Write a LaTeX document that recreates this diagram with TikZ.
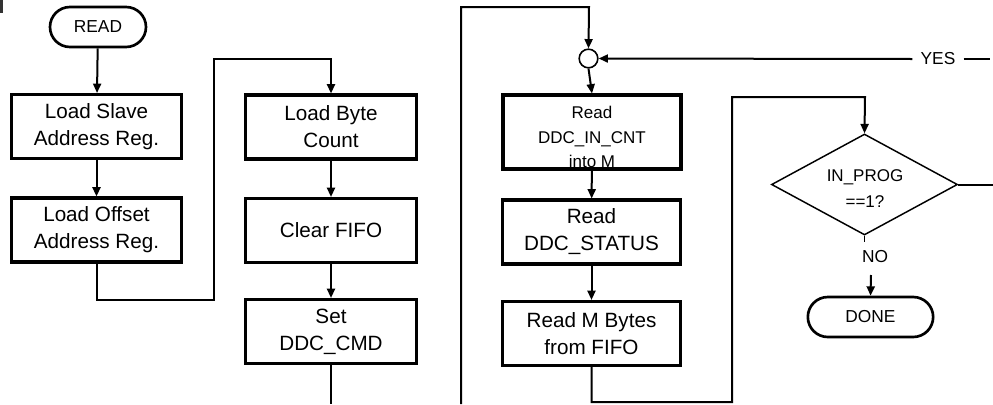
\documentclass[tikz,border=0pt]{standalone}
\usepackage{fontspec}
\setmainfont{Liberation Sans}
\usetikzlibrary{shapes.geometric,arrows.meta}
\begin{document}
\begin{tikzpicture}[x=0.75pt,y=-0.75pt,
  box/.style={draw,line width=2.3pt,minimum width=128pt,minimum height=48pt,inner sep=0pt,align=center,font=\fontsize{15.5pt}{20.25pt}\selectfont},
  term/.style={draw,line width=2pt,rounded corners=15pt,minimum width=72pt,minimum height=30pt,inner sep=0pt,font=\fontsize{13pt}{16pt}\selectfont},
  dec/.style={draw,line width=1.1pt,diamond,aspect=1.84,minimum width=139.5pt,minimum height=75.75pt,inner sep=0pt},
  txt/.style={inner sep=0pt,align=center,font=\fontsize{12.75pt}{18.6pt}\selectfont},
  lbl/.style={inner sep=1pt,font=\fontsize{13pt}{16pt}\selectfont},
  conn/.style={line width=1.5pt},
  arr/.style={line width=1.5pt,-{Triangle[length=7pt,width=6pt]}}]
\useasboundingbox (0,0) rectangle (993,404);
\fill[black!80] (0,0) rectangle (3,13);
% column 1
\node[term] (read) at (98,27) {READ};
\node[box] (slave) at (96.5,126.5) {Load Slave\\Address Reg.};
\node[box] (offset) at (96.5,230) {Load Offset\\Address Reg.};
% column 2
\node[box] (bytecnt) at (331,127) {Load Byte\\Count};
\node[box] (clear) at (331,230.5) {Clear FIFO};
\node[box] (setcmd) at (331,331.5) {Set\\DDC\_CMD};
% column 3
\node[draw,circle,line width=1.2pt,minimum size=14pt,inner sep=0pt] (join) at (588.5,58.5) {};
\node[box,minimum width=133.5pt,minimum height=55.5pt] (incnt) at (592,132) {};
\node[txt] (incnttext) at (592,137) {Read\\DDC\_IN\_CNT\\into M};
\node[box,minimum width=133.5pt] (status) at (591.5,232) {Read\\DDC\_STATUS};
\node[box,minimum width=133.5pt] (mbytes) at (591.5,333.5) {Read M Bytes\\from FIFO};
% column 4
\node[dec] (prog) at (864.5,184.5) {};
\node[txt,font=\fontsize{12.75pt}{19.5pt}\selectfont] (progtext) at (865,189) {IN\_PROG\\==1?};
\node[lbl] (no) at (875,257) {NO};
\node[term,minimum width=94pt] (done) at (870.5,317) {DONE};
\node[lbl,inner xsep=6pt] (yes) at (938,59) {YES};
\coordinate (rend) at (993,184.5);
\coordinate (yend) at (990,59);
\coordinate (c2bot) at (331,404);
\coordinate (c3bot) at (461,404);
% connectors
\draw[arr] (read) -- (slave);
\draw[arr] (slave) -- (offset);
\draw[arr] (offset.south) |- (214,300) |- (331,59) -- (bytecnt.north);
\draw[arr] (bytecnt) -- (clear);
\draw[arr] (clear) -- (setcmd);
\draw[conn] (setcmd.south) -- (c2bot);
\draw[arr] (c3bot) |- (589,7) -- (join.north);
\draw[arr] (join.south) -- (incnt.north);
\draw[arr] (incnt) -- (status);
\draw[arr] (status) -- (mbytes);
\draw[arr] (mbytes.south) |- (732,402) |- (865,97) -- (prog.north);
\draw[conn] (prog.east) -- (rend);
\draw[arr] (yes.west) -- (join.east);
\draw[conn] (yes.east) -- (yend);
\draw[line width=1.1pt] (prog.south) -- ++(0,6);
\draw[arr] (871,275) -- (done.north);
\end{tikzpicture}
\end{document}
